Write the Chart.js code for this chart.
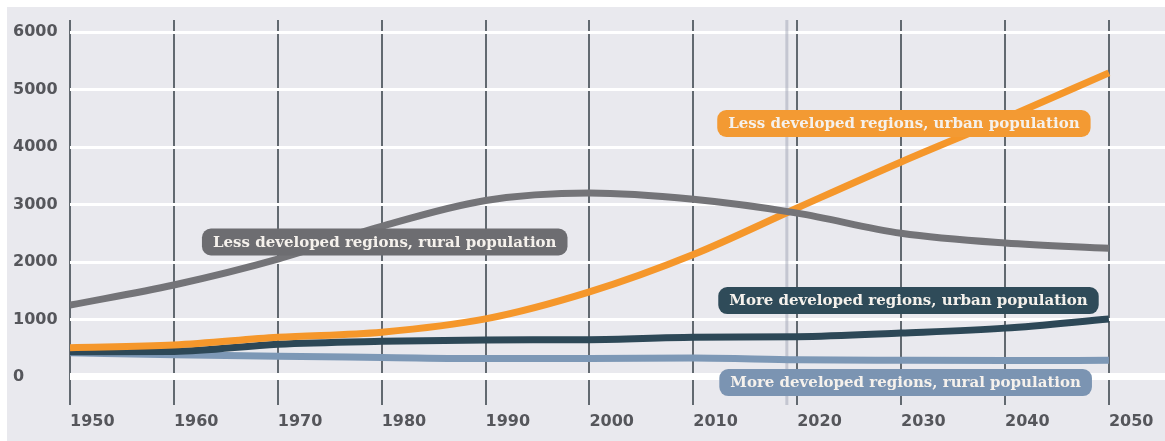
<!DOCTYPE html>
<html>
<head>
<meta charset="utf-8">
<script src="https://cdn.jsdelivr.net/npm/chart.js@4.4.0/dist/chart.umd.min.js"></script>
<style>
html, body { margin: 0; padding: 0; background: #fff; }
</style>
</head>
<body>
<canvas id="popChart" width="1165" height="441"></canvas>
<script>
// population, millions
var years = [1950, 1960, 1970, 1980, 1990, 2000, 2010, 2020, 2030, 2040, 2050];
var lessRural = [1250, 1600, 2050, 2620, 3070, 3200, 3090, 2850, 2500, 2330, 2240];
var lessUrban = [510, 556, 690, 780, 1010, 1480, 2130, 2940, 3740, 4500, 5290];
var moreUrban = [440, 445, 570, 620, 645, 650, 690, 700, 765, 850, 1010];
var moreRural = [420, 385, 360, 340, 320, 320, 330, 300, 290, 285, 290];

var xTicks = [1950, 1960, 1970, 1980, 1990, 2000, 2010, 2020, 2030, 2040, 2050];
var yTicks = [0, 1000, 2000, 3000, 4000, 5000, 6000];

var seriesNames = [
    "Less developed regions, rural population",
    "Less developed regions, urban population",
    "More developed regions, urban population",
    "More developed regions, rural population"
];
var todayYear = 2019;

// where the name boxes sit (year, value at box middle)
var boxYear = [1962.7, 2012.3, 2012.4, 2012.5];
var boxValue = [2348, 4409, 1330, -96];

var lineColors = ["#747478", "#f5972b", "#2d4857", "#7d98b6"];
var boxColors = ["#6d6d71", "#f39a33", "#2f4b59", "#7b94b2"];

function pts(vals) {
    return years.map(function (y, i) { return { x: y, y: vals[i] }; });
}

var bgPlugin = {
    id: "panel",
    beforeDraw: function (chart) {
        var c = chart.ctx;
        c.save();
        c.fillStyle = "#fff";
        c.fillRect(0, 0, chart.width, chart.height);
        c.fillStyle = "#e9e9ee";
        c.fillRect(7, 7, chart.width - 7, chart.height - 7);
        c.restore();
    },
    beforeDatasetsDraw: function (chart) {
        var c = chart.ctx, a = chart.chartArea;
        var x = chart.scales.x.getPixelForValue(todayYear);
        c.save();
        c.strokeStyle = "rgba(150,156,172,0.45)";
        c.lineWidth = 3;
        c.beginPath();
        c.moveTo(x, a.top);
        c.lineTo(x, a.bottom);
        c.stroke();
        c.restore();
    }
};

var namePlugin = {
    id: "names",
    afterDatasetsDraw: function (chart) {
        var c = chart.ctx;
        c.save();
        c.font = 'bold 15px "DejaVu Serif"';
        c.textBaseline = "middle";
        for (var i = 0; i < seriesNames.length; i++) {
            var x = chart.scales.x.getPixelForValue(boxYear[i]);
            var y = chart.scales.y.getPixelForValue(boxValue[i]);
            var w = c.measureText(seriesNames[i]).width + 22;
            var h = 27;
            c.fillStyle = boxColors[i];
            c.beginPath();
            c.roundRect(x, y - h / 2, w, h, 9);
            c.fill();
            c.fillStyle = "#f5f1ec";
            c.fillText(seriesNames[i], x + 11, y + 1);
        }
        c.restore();
    }
};

var datasets = [lessRural, lessUrban, moreUrban, moreRural].map(function (vals, i) {
    return {
        label: seriesNames[i],
        data: pts(vals),
        borderColor: lineColors[i],
        borderWidth: 7,
        pointRadius: 0,
        fill: false,
        cubicInterpolationMode: "monotone",
        borderCapStyle: "butt"
    };
});

var tickFont = { family: "DejaVu Sans", size: 16, weight: "bold" };

new Chart(document.getElementById("popChart"), {
    type: "line",
    data: { datasets: datasets },
    options: {
        responsive: false,
        devicePixelRatio: 1,
        animation: false,
        layout: { padding: { left: 13, top: 20, right: 0, bottom: 0 } },
        plugins: { legend: { display: false }, tooltip: { enabled: false } },
        scales: {
            x: {
                type: "linear",
                min: 1950,
                max: 2055.4,
                afterBuildTicks: function (s) {
                    s.ticks = xTicks.map(function (v) { return { value: v }; });
                },
                afterFit: function (s) { s.height = 36; },
                ticks: {
                    align: "start",
                    padding: 7,
                    color: "#55565b",
                    font: tickFont,
                    callback: function (v) { return String(v); }
                },
                grid: { color: "#626970", lineWidth: 2, drawTicks: false },
                border: { display: false }
            },
            y: {
                min: -487,
                max: 6209,
                afterBuildTicks: function (s) {
                    s.ticks = yTicks.map(function (v) { return { value: v }; });
                },
                afterFit: function (s) { s.width = 57; },
                ticks: {
                    crossAlign: "far",
                    color: "#55565b",
                    font: tickFont,
                    callback: function (v) { return String(v); }
                },
                grid: {
                    color: "#ffffff",
                    lineWidth: function (ctx) { return ctx.tick && ctx.tick.value === 0 ? 7 : 3; },
                    drawTicks: false
                },
                border: { display: false }
            }
        }
    },
    plugins: [bgPlugin, namePlugin]
});
</script>
</body>
</html>
